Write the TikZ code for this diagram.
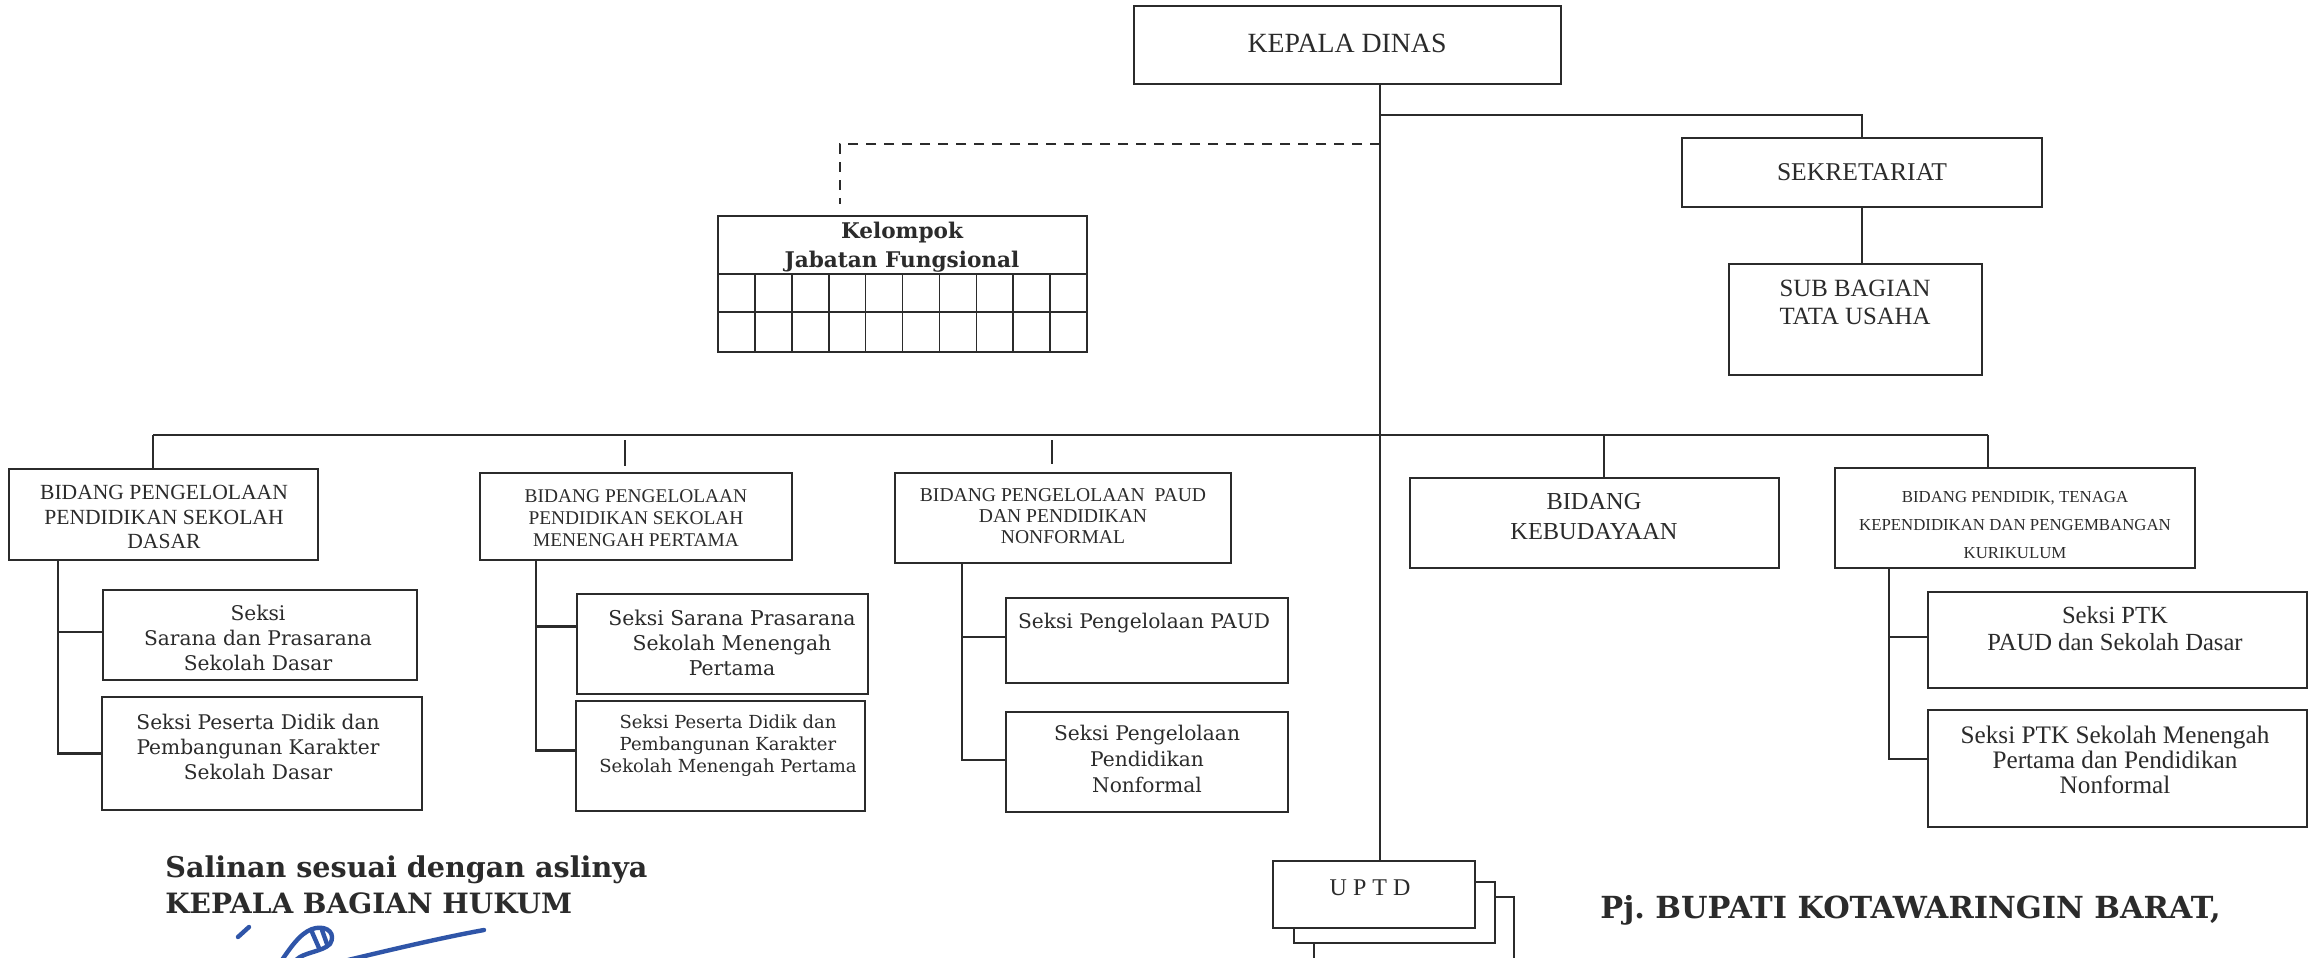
\documentclass[tikz,border=0pt]{standalone}
\usepackage{fontspec}
\setmainfont{Liberation Serif}
\newfontfamily\bkfont{DejaVu Serif}
\usetikzlibrary{fit,calc}
\definecolor{ink}{HTML}{2B2B2B}
\definecolor{sigblue}{HTML}{2F55A8}
\tikzset{
  box/.style={draw=ink, line width=1.25pt, inner sep=0pt, fill=white},
  ln/.style={draw=ink, line width=1.2pt},
  gl/.style={draw=ink, line width=0.8pt},
  dsh/.style={draw=ink, line width=1.2pt, dash pattern=on 5pt off 4pt},
  txt/.style={text=ink, align=center, inner sep=0pt},
  sig/.style={draw=sigblue, line width=2.2pt, line cap=round, line join=round},
}
\newcommand\fs[2]{\fontsize{#1}{#2}\selectfont}
\begin{document}
\begin{tikzpicture}[x=0.5pt,y=-0.5pt]
\useasboundingbox (0,0) rectangle (2313,958);
\clip (0,0) rectangle (2313,958);
\fill[white] (0,0) rectangle (2313,958);

% ---- top level
\node[box, fit={(1134,6)(1561,84)}] (kd) {};
\node[txt, font=\fs{13.9}{16}] (kdt) at (1347,43) {KEPALA DINAS};

\node[box, fit={(1682,138)(2042,207)}] (sek) {};
\node[txt, font=\fs{12.8}{15}] (sekt) at (1862,172) {SEKRETARIAT};

\node[box, fit={(1729,264)(1982,375)}] (sub) {};
\node[txt, font=\fs{12.4}{14}] (subt) at (1855,302) {SUB BAGIAN\\TATA USAHA};

% ---- kelompok jabatan fungsional
\node[box, fit={(718,216)(1087,352)}] (kel) {};
\node[txt, font=\bkfont\bfseries\fs{10.8}{14.5}] (kelt) at (902,247) {Kelompok\\Jabatan Fungsional};
\draw[gl] (718,274) -- (1087,274);
\draw[gl] (718,312) -- (1087,312);
\foreach \k in {1,...,9} { \draw[gl] ({718+\k*36.9},274) -- ({718+\k*36.9},352); }

% ---- UPTD stack
\node[box, fit={(1314,897)(1514,975)}] (uptd3) {};
\node[box, fit={(1294,882)(1495,943)}] (uptd2) {};
\node[box, fit={(1273,861)(1475,928)}] (uptd) {};
\node[txt, font=\fs{12}{14}] (uptdt) at (1370,888) {U P T D};

% ---- bidang
\node[box, fit={(9,469)(318,560)}] (b1) {};
\node[txt, font=\fs{10.8}{12.25}] (b1t) at (164,517) {BIDANG PENGELOLAAN\\PENDIDIKAN SEKOLAH\\DASAR};

\node[box, fit={(480,473)(792,560)}] (b2) {};
\node[txt, font=\fs{9.7}{11}] (b2t) at (636,518) {BIDANG PENGELOLAAN\\PENDIDIKAN SEKOLAH\\MENENGAH PERTAMA};

\node[box, fit={(895,473)(1231,563)}] (b3) {};
\node[txt, font=\fs{9.8}{10.5}] (b3t) at (1063,516) {BIDANG PENGELOLAAN\ \ PAUD\\DAN PENDIDIKAN\\NONFORMAL};

\node[box, fit={(1410,478)(1779,568)}] (keb) {};
\node[txt, font=\fs{12.2}{15}] (kebt) at (1594,517) {BIDANG\\KEBUDAYAAN};

\node[box, fit={(1835,468)(2195,568)}] (ptk) {};
\node[txt, font=\fs{8.4}{14}] (ptkt) at (2015,525) {BIDANG PENDIDIK, TENAGA\\KEPENDIDIKAN DAN PENGEMBANGAN\\KURIKULUM};

% ---- seksi
\node[box, fit={(103,590)(417,680)}] (s11) {};
\node[txt, font=\bkfont\fs{10.1}{12.5}] (s11t) at (258,638) {Seksi\\Sarana dan Prasarana\\Sekolah Dasar};
\node[box, fit={(102,697)(422,810)}] (s12) {};
\node[txt, font=\bkfont\fs{10.1}{12.5}] (s12t) at (258,747) {Seksi Peserta Didik dan\\Pembangunan Karakter\\Sekolah Dasar};

\node[box, fit={(577,594)(868,694)}] (s21) {};
\node[txt, font=\bkfont\fs{10.2}{12.5}] (s21t) at (732,643) {Seksi Sarana Prasarana\\Sekolah Menengah\\Pertama};
\node[box, fit={(576,701)(865,811)}] (s22) {};
\node[txt, font=\bkfont\fs{9}{11}] (s22t) at (728,746) {Seksi Peserta Didik dan\\Pembangunan Karakter\\Sekolah Menengah Pertama};

\node[box, fit={(1006,598)(1288,683)}] (s31) {};
\node[txt, font=\bkfont\fs{10.1}{12.5}] (s31t) at (1144,623) {Seksi Pengelolaan PAUD};
\node[box, fit={(1006,712)(1288,812)}] (s32) {};
\node[txt, font=\bkfont\fs{10.1}{13}] (s32t) at (1147,759) {Seksi Pengelolaan\\Pendidikan\\Nonformal};

\node[box, fit={(1928,592)(2307,688)}] (s41) {};
\node[txt, font=\fs{12.3}{13.5}] (s41t) at (2115,629) {Seksi PTK\\PAUD dan Sekolah Dasar};
\node[box, fit={(1928,710)(2307,827)}] (s42) {};
\node[txt, font=\fs{12.6}{12.5}] (s42t) at (2115,760) {Seksi PTK Sekolah Menengah\\Pertama dan Pendidikan\\Nonformal};

% ---- connector helper coordinates
\coordinate (tr) at (1380,115);
\coordinate (jd) at (1380,144);
\coordinate (dk) at (840,144);
\coordinate (bl) at (153,435);
\coordinate (br) at (1988,435);
\coordinate (t2) at (625,435);
\coordinate (t3) at (1052,435);
\coordinate (t4) at (1604,435);
\coordinate (c1) at (58,560);
\coordinate (c2) at (536,560);
\coordinate (c3) at (962,563);
\coordinate (c4) at (1889,568);
\path ($(s11.north west)!.47!(s11.south west)$) coordinate (p11);
\path ($(s12.north west)!.50!(s12.south west)$) coordinate (p12);
\path ($(s21.north west)!.33!(s21.south west)$) coordinate (p21);
\path ($(s22.north west)!.45!(s22.south west)$) coordinate (p22);
\path ($(s31.north west)!.46!(s31.south west)$) coordinate (p31);
\path ($(s32.north west)!.48!(s32.south west)$) coordinate (p32);
\path ($(s41.north west)!.47!(s41.south west)$) coordinate (p41);
\path ($(s42.north west)!.42!(s42.south west)$) coordinate (p42);

% ---- connectors
\draw[ln] (kd.south -| tr) -- (uptd.north -| tr);
\draw[ln] (tr) -| (sek.north);
\draw[ln] (sek.south) -- (sek.south |- sub.north);
\draw[dsh, shorten >=5.5pt] (jd) -- (dk) -- (dk |- kel.north);

\draw[ln] (bl) -- (br);
\draw[ln] (bl) -- (bl |- b1.north);
\draw[ln, shorten <=2.5pt, shorten >=3pt] (t2) -- (t2 |- b2.north);
\draw[ln, shorten <=2.5pt, shorten >=4pt] (t3) -- (t3 |- b3.north);
\draw[ln] (t4) -- (t4 |- keb.north);
\draw[ln] (br) -- (br |- ptk.north);

\draw[ln] (c1 |- b1.south) |- (p12);
\draw[ln] (c1 |- p11) -- (p11);
\draw[ln] (c2 |- b2.south) |- (p22);
\draw[ln] (c2 |- p21) -- (p21);
\draw[ln] (c3 |- b3.south) |- (p32);
\draw[ln] (c3 |- p31) -- (p31);
\draw[ln] (c4 |- ptk.south) |- (p42);
\draw[ln] (c4 |- p41) -- (p41);

% ---- signature block texts
\node[txt, anchor=west, font=\bkfont\bfseries\fs{14.3}{16}] (sal) at (165,870) {Salinan sesuai dengan aslinya};
\node[txt, anchor=west, font=\bkfont\bfseries\fs{14}{16}] (kbh) at (165,903) {KEPALA BAGIAN HUKUM};
\node[txt, anchor=west, font=\bkfont\bfseries\fs{15.2}{16}] (pj) at (1600,910) {Pj.\ BUPATI KOTAWARINGIN BARAT,};

% ---- signature strokes
\draw[sig] (238,937) -- (249,927);
\draw[sig] (282,960) .. controls (294,942) and (304,930) .. (316,928) .. controls (328,926) and (336,934) .. (330,944) .. controls (322,952) and (304,952) .. (296,960);
\draw[sig] (312,932) -- (319,948);
\draw[sig] (322,930) -- (327,944);
\draw[sig] (348,960) .. controls (390,950) and (440,938) .. (484,930);
\end{tikzpicture}
\end{document}
